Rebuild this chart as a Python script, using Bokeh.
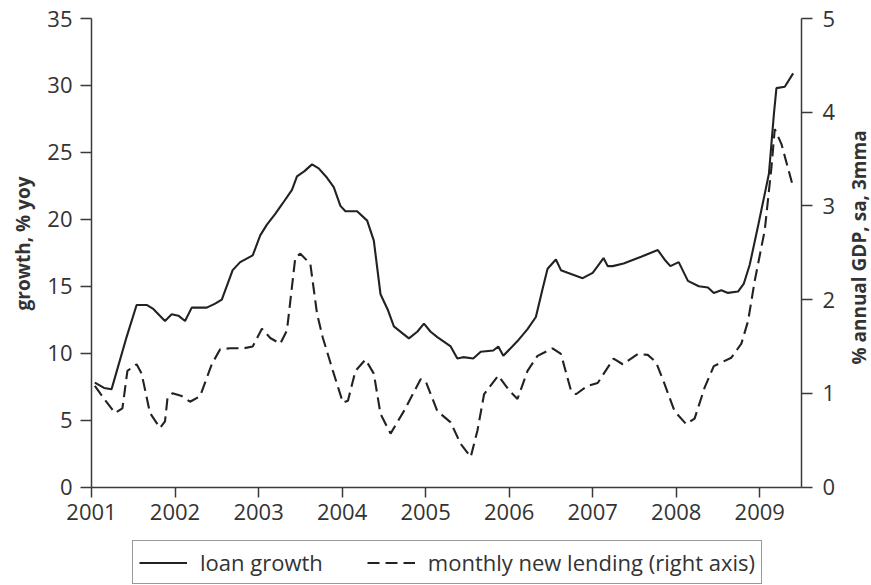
import math
from bokeh.plotting import figure
from bokeh.models import (Range1d, LinearAxis, FixedTicker, Legend, LegendItem, Label)
from bokeh.embed import file_html
from bokeh.resources import INLINE

# ---- data ----
loan_x = [2001.04, 2001.15, 2001.24, 2001.30, 2001.42, 2001.54, 2001.66, 2001.74,
          2001.88, 2001.96, 2002.04, 2002.12, 2002.20, 2002.38, 2002.48, 2002.56,
          2002.69, 2002.78, 2002.93, 2003.02, 2003.10, 2003.20, 2003.29, 2003.40,
          2003.46, 2003.55, 2003.64, 2003.72, 2003.82, 2003.90, 2003.98, 2004.04,
          2004.18, 2004.30, 2004.38, 2004.46, 2004.55, 2004.62, 2004.72, 2004.80,
          2004.90, 2004.98, 2005.06, 2005.14, 2005.30, 2005.38, 2005.45, 2005.57,
          2005.66, 2005.81, 2005.87, 2005.93, 2006.10, 2006.22, 2006.32, 2006.40,
          2006.46, 2006.56, 2006.62, 2006.70, 2006.88, 2007.00, 2007.06, 2007.13,
          2007.18, 2007.24, 2007.37, 2007.58, 2007.78, 2007.86, 2007.93, 2008.03,
          2008.14, 2008.27, 2008.38, 2008.45, 2008.54, 2008.62, 2008.74, 2008.81,
          2008.88, 2008.98, 2009.11, 2009.17, 2009.20, 2009.30, 2009.40]
loan_growth = [7.8, 7.4, 7.3, 8.6, 11.2, 13.6, 13.6, 13.3,
               12.4, 12.9, 12.8, 12.4, 13.4, 13.4, 13.7, 14.0,
               16.2, 16.8, 17.3, 18.8, 19.6, 20.4, 21.2, 22.2,
               23.2, 23.6, 24.1, 23.8, 23.1, 22.4, 21.0, 20.6,
               20.6, 19.9, 18.4, 14.4, 13.2, 12.0, 11.5, 11.1,
               11.6, 12.2, 11.6, 11.2, 10.5, 9.6, 9.7, 9.6,
               10.1, 10.2, 10.5, 9.8, 10.9, 11.8, 12.7, 14.8,
               16.3, 17.0, 16.2, 16.0, 15.6, 16.0, 16.5, 17.1,
               16.5, 16.5, 16.7, 17.2, 17.7, 17.0, 16.5, 16.8,
               15.4, 15.0, 14.9, 14.5, 14.7, 14.5, 14.6, 15.2,
               16.6, 19.5, 23.4, 27.9, 29.8, 29.9, 30.9]

lend_x = [2001.04, 2001.16, 2001.28, 2001.37, 2001.43, 2001.54, 2001.60, 2001.70,
          2001.82, 2001.88, 2001.91, 2001.97, 2002.08, 2002.18, 2002.30, 2002.44,
          2002.54, 2002.66, 2002.82, 2002.93, 2003.04, 2003.14, 2003.26, 2003.34,
          2003.44, 2003.50, 2003.62, 2003.70, 2003.77, 2003.89, 2004.01, 2004.07,
          2004.16, 2004.28, 2004.38, 2004.46, 2004.58, 2004.74, 2004.94, 2005.00,
          2005.14, 2005.30, 2005.42, 2005.54, 2005.62, 2005.70, 2005.87, 2006.00,
          2006.10, 2006.22, 2006.34, 2006.52, 2006.62, 2006.74, 2006.80, 2006.94,
          2007.06, 2007.25, 2007.36, 2007.54, 2007.66, 2007.76, 2007.86, 2007.98,
          2008.12, 2008.22, 2008.34, 2008.45, 2008.66, 2008.78, 2008.86, 2008.94,
          2009.06, 2009.14, 2009.18, 2009.26, 2009.40]
new_lending = [1.08, 0.93, 0.79, 0.84, 1.24, 1.31, 1.21, 0.79,
               0.63, 0.70, 0.95, 1.00, 0.97, 0.91, 0.97, 1.31,
               1.47, 1.48, 1.48, 1.50, 1.69, 1.59, 1.53, 1.67,
               2.45, 2.49, 2.38, 1.85, 1.59, 1.24, 0.90, 0.92,
               1.24, 1.36, 1.21, 0.78, 0.57, 0.81, 1.15, 1.13,
               0.81, 0.69, 0.46, 0.32, 0.60, 0.99, 1.19, 1.03,
               0.94, 1.24, 1.40, 1.48, 1.42, 1.03, 0.99, 1.08,
               1.11, 1.37, 1.31, 1.42, 1.41, 1.33, 1.10, 0.81,
               0.67, 0.73, 1.06, 1.29, 1.38, 1.53, 1.77, 2.20,
               2.74, 3.41, 3.82, 3.66, 3.20]

year_ticks = [2001, 2002, 2003, 2004, 2005, 2006, 2007, 2008, 2009]
left_ticks = [0, 5, 10, 15, 20, 25, 30, 35]
right_ticks = [0, 1, 2, 3, 4, 5]

FONT = "Open Sans"
TXT = "#333333"
AX = "#3a3a3a"

W, H = 871, 585
# plotting frame covers the whole canvas; axes are placed at fixed positions
X_LEFT, X_RIGHT = 2001.0, 2009.5          # where the two value axes stand
PX_LEFT, PX_RIGHT = 91.0, 801.0           # their pixel columns
PX_TOP, PX_ZERO = 18.0, 486.5             # pixel rows of 35 and 0
LEFT_MAX, RIGHT_MAX = 35.0, 5.0

xs = (PX_RIGHT - PX_LEFT) / (X_RIGHT - X_LEFT)
ys = (PX_ZERO - PX_TOP) / LEFT_MAX
x_start = X_LEFT - PX_LEFT / xs
x_end = X_RIGHT + (W - PX_RIGHT) / xs
y_end = LEFT_MAX + PX_TOP / ys
y_start = -(H - PX_ZERO) / ys
k = RIGHT_MAX / LEFT_MAX

p = figure(width=W, height=H, output_backend="svg", toolbar_location=None,
           x_range=Range1d(x_start, x_end), y_range=Range1d(y_start, y_end),
           x_axis_location=None, y_axis_location=None,
           min_border_left=0, min_border_right=0, min_border_top=0,
           min_border_bottom=0)
p.outline_line_color = None
p.grid.visible = False
p.background_fill_color = "white"
p.border_fill_color = "white"

p.extra_y_ranges = {"right": Range1d(y_start * k, y_end * k)}

def style_axis(ax, ticks):
    ax.ticker = FixedTicker(ticks=ticks)
    ax.axis_line_color = AX
    ax.axis_line_width = 1.5
    ax.major_tick_line_color = AX
    ax.major_tick_line_width = 1.5
    ax.major_tick_in = 0
    ax.major_tick_out = 11
    ax.minor_tick_line_color = None
    ax.major_label_text_font = FONT
    ax.major_label_text_font_size = "22px"
    ax.major_label_text_color = TXT
    ax.major_label_standoff = 8

xax = LinearAxis(fixed_location=0, bounds=(X_LEFT, X_RIGHT))
style_axis(xax, year_ticks)
xax.major_tick_out = 10
xax.major_label_standoff = 7
p.add_layout(xax, "below")

yax = LinearAxis(fixed_location=X_LEFT, bounds=(0, LEFT_MAX))
style_axis(yax, left_ticks)
p.add_layout(yax, "left")

rax = LinearAxis(fixed_location=X_RIGHT, y_range_name="right", bounds=(0, RIGHT_MAX))
style_axis(rax, right_ticks)
rax.major_label_standoff = 10
p.add_layout(rax, "right")

r1 = p.line(loan_x, loan_growth, line_color="#222222", line_width=2.1)
r2 = p.line(lend_x, new_lending, y_range_name="right", line_color="#222222",
            line_width=2.1, line_dash="12 6")

lab_l = Label(x=22, y=H - 243, x_units="screen", y_units="screen",
              text="growth, % yoy", angle=math.pi / 2,
              text_align="center", text_baseline="middle",
              text_font=FONT, text_font_size="19px", text_font_style="bold",
              text_color=TXT)
lab_r = Label(x=858, y=H - 247, x_units="screen", y_units="screen",
              text="% annual GDP, sa, 3mma", angle=math.pi / 2,
              text_align="center", text_baseline="middle",
              text_font=FONT, text_font_size="19px", text_font_style="bold",
              text_color=TXT)
p.add_layout(lab_l)
p.add_layout(lab_r)

legend = Legend(items=[LegendItem(label="loan growth", renderers=[r1]),
                       LegendItem(label="monthly new lending (right axis)", renderers=[r2])],
                orientation="horizontal", location=(132, 1))
legend.glyph_width = 48
legend.glyph_height = 23
legend.label_height = 23
legend.label_standoff = 13
legend.spacing = 44
legend.padding = 6
legend.margin = 0
legend.label_text_font = FONT
legend.label_text_font_size = "22px"
legend.label_text_color = TXT
legend.border_line_color = "#333333"
legend.border_line_width = 1.3
legend.background_fill_color = "white"
legend.background_fill_alpha = 1.0
p.add_layout(legend, "center")

open("out.html", "w").write(file_html(p, INLINE))
